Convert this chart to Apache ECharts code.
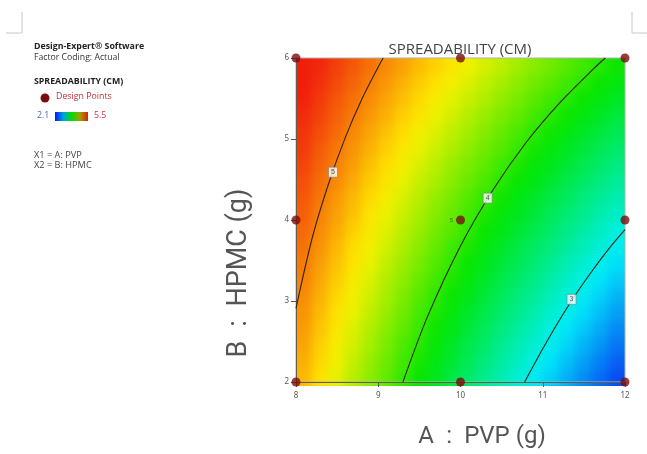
<!DOCTYPE html>
<html>
<head>
<meta charset="utf-8">
<script src="https://cdn.jsdelivr.net/npm/echarts@6/dist/echarts.min.js"></script>
<style>
html,body{margin:0;padding:0;background:#fff;width:647px;height:454px;overflow:hidden;}
#wrap{position:relative;width:647px;height:454px;background:#fff;overflow:hidden;}
#clip{position:absolute;left:296px;top:58px;width:329px;height:328px;overflow:hidden;}
#heat{position:absolute;left:-24px;top:-24px;width:377px;height:376px;filter:blur(5px);}
#chart{position:absolute;left:0;top:0;width:647px;height:454px;}
</style>
</head>
<body>
<div id="wrap">
  <div id="clip"><div id="heat"></div></div>
  <div id="chart"></div>
</div>
<script>
// ---- Data ----
var xTicks = [8, 9, 10, 11, 12];
var yTicks = [2, 3, 4, 5, 6];
// Cell centres of the response grid (A : PVP, B : HPMC)
var aCenters = [8.1,8.3,8.5,8.7,8.9,9.1,9.3,9.5,9.7,9.9,10.1,10.3,10.5,10.7,10.9,11.1,11.3,11.5,11.7,11.9];
var bCenters = [2.1,2.3,2.5,2.7,2.9,3.1,3.3,3.5,3.7,3.9,4.1,4.3,4.5,4.7,4.9,5.1,5.3,5.5,5.7,5.9];
// Spreadability (cm) estimated from colours / contours, one row per bCenter
var spreadGrid = [
[4.82,4.69,4.56,4.42,4.29,4.16,4.02,3.89,3.76,3.62,3.49,3.35,3.22,3.09,2.95,2.82,2.69,2.55,2.42,2.29],
[4.85,4.72,4.59,4.46,4.33,4.20,4.07,3.94,3.81,3.68,3.55,3.42,3.29,3.16,3.03,2.89,2.76,2.63,2.50,2.37],
[4.88,4.75,4.62,4.50,4.37,4.24,4.11,3.99,3.86,3.73,3.60,3.48,3.35,3.22,3.10,2.97,2.84,2.71,2.59,2.46],
[4.91,4.78,4.66,4.53,4.41,4.28,4.16,4.04,3.91,3.79,3.66,3.54,3.41,3.29,3.17,3.04,2.92,2.79,2.67,2.54],
[4.93,4.81,4.69,4.57,4.45,4.33,4.21,4.08,3.96,3.84,3.72,3.60,3.48,3.36,3.24,3.11,2.99,2.87,2.75,2.63],
[4.96,4.84,4.72,4.61,4.49,4.37,4.25,4.13,4.01,3.90,3.78,3.66,3.54,3.42,3.31,3.19,3.07,2.95,2.83,2.71],
[4.99,4.87,4.76,4.64,4.53,4.41,4.30,4.18,4.07,3.95,3.84,3.72,3.61,3.49,3.38,3.26,3.14,3.03,2.91,2.80],
[5.01,4.90,4.79,4.68,4.57,4.45,4.34,4.23,4.12,4.01,3.89,3.78,3.67,3.56,3.45,3.33,3.22,3.11,3.00,2.88],
[5.04,4.93,4.82,4.71,4.61,4.50,4.39,4.28,4.17,4.06,3.95,3.84,3.73,3.62,3.51,3.41,3.30,3.19,3.08,2.97],
[5.07,4.96,4.86,4.75,4.65,4.54,4.43,4.33,4.22,4.12,4.01,3.90,3.80,3.69,3.59,3.48,3.37,3.27,3.16,3.05],
[5.10,4.99,4.89,4.79,4.68,4.58,4.48,4.38,4.27,4.17,4.07,3.96,3.86,3.76,3.66,3.55,3.45,3.35,3.24,3.14],
[5.12,5.02,4.92,4.82,4.72,4.62,4.52,4.42,4.32,4.22,4.12,4.02,3.92,3.82,3.72,3.62,3.52,3.42,3.32,3.23],
[5.15,5.05,4.96,4.86,4.76,4.67,4.57,4.47,4.38,4.28,4.18,4.09,3.99,3.89,3.80,3.70,3.60,3.50,3.41,3.31],
[5.18,5.08,4.99,4.90,4.80,4.71,4.62,4.52,4.43,4.33,4.24,4.15,4.05,3.96,3.86,3.77,3.68,3.58,3.49,3.40],
[5.21,5.11,5.02,4.93,4.84,4.75,4.66,4.57,4.48,4.39,4.30,4.21,4.12,4.03,3.93,3.84,3.75,3.66,3.57,3.48],
[5.23,5.15,5.06,4.97,4.88,4.79,4.71,4.62,4.53,4.44,4.36,4.27,4.18,4.09,4.00,3.92,3.83,3.74,3.65,3.57],
[5.26,5.18,5.09,5.01,4.92,4.84,4.75,4.67,4.58,4.50,4.41,4.33,4.24,4.16,4.07,3.99,3.91,3.82,3.74,3.65],
[5.29,5.21,5.12,5.04,4.96,4.88,4.80,4.72,4.63,4.55,4.47,4.39,4.31,4.23,4.14,4.06,3.98,3.90,3.82,3.74],
[5.31,5.24,5.16,5.08,5.00,4.92,4.84,4.76,4.69,4.61,4.53,4.45,4.37,4.29,4.21,4.14,4.06,3.98,3.90,3.82],
[5.34,5.27,5.19,5.12,5.04,4.96,4.89,4.81,4.74,4.66,4.59,4.51,4.44,4.36,4.28,4.21,4.13,4.06,3.98,3.91]
];
var colorMin = 2.1, colorMax = 5.5;
// Design points
var designA = [8, 10, 12, 8, 10, 12, 8, 10, 12];
var designB = [2, 2, 2, 4, 4, 4, 6, 6, 6];
var centerCount = '5';
// Contour lines (points traced on the picture)
var contour5 = [[8,2.91],[8.2,3.79],[8.4,4.46],[8.6,5.02],[8.8,5.49],[9.0,5.89],[9.06,6]];
var contour4 = [[9.3,2],[9.6,2.81],[10,3.68],[10.4,4.38],[10.8,4.96],[11.2,5.44],[11.6,5.85],[11.76,6]];
var contour3 = [[10.78,2],[11,2.41],[11.2,2.76],[11.4,3.08],[11.6,3.37],[11.8,3.64],[12,3.88]];
var contourLabels = [[8.45,4.59,'5'],[10.33,4.27,'4'],[11.35,3.02,'3']];

// ---- Colour ramp (style): anchor values -> colours ----
var rampAt = [2.1, 2.95, 3.87, 4.64, 5.3, 5.5];
var rampCol = ['#0a1cf0', '#00f0fa', '#00e600', '#fff200', '#f01e0c', '#f01e0c'];
function hex2rgb(h) { return [parseInt(h.substr(1,2),16), parseInt(h.substr(3,2),16), parseInt(h.substr(5,2),16)]; }
var rampList = [];
for (var s = 0; s <= 34; s++) {
  var v = colorMin + (colorMax - colorMin) * s / 34;
  var k = 0; while (k < rampAt.length - 2 && v > rampAt[k + 1]) k++;
  var t = Math.max(0, Math.min(1, (v - rampAt[k]) / (rampAt[k + 1] - rampAt[k])));
  var c0 = hex2rgb(rampCol[k]), c1 = hex2rgb(rampCol[k + 1]);
  rampList.push('rgb(' + Math.round(c0[0] + (c1[0]-c0[0])*t) + ',' + Math.round(c0[1] + (c1[1]-c0[1])*t) + ',' + Math.round(c0[2] + (c1[2]-c0[2])*t) + ')');
}

// ---- Build series data ----
var cells = [];
for (var j = 0; j < bCenters.length; j++) {
  for (var i = 0; i < aCenters.length; i++) {
    cells.push([aCenters[i], bCenters[j], spreadGrid[j][i], i, j]);
  }
}
var cellW = aCenters[1] - aCenters[0];
var cellH = bCenters[1] - bCenters[0];
var designData = designA.map(function (a, k) { return [a, designB[k]]; });

// ---- Background response surface (blurred layer, same scales) ----
var heat = echarts.init(document.getElementById('heat'));
var PAD = 24;
heat.setOption({
  animation: false,
  grid: { left: PAD, top: PAD, width: 329, height: 328 },
  xAxis: { type: 'value', min: 8, max: 12, show: false },
  yAxis: { type: 'value', min: 2, max: 6, show: false },
  visualMap: { show: false, type: 'continuous', min: colorMin, max: colorMax, dimension: 2, inRange: { color: rampList } },
  series: [{
    type: 'custom', data: cells, silent: true, clip: false,
    renderItem: function (params, api) {
      var p0 = api.coord([api.value(0) - cellW / 2, api.value(1) + cellH / 2]);
      var p1 = api.coord([api.value(0) + cellW / 2, api.value(1) - cellH / 2]);
      var x0 = p0[0] - 0.5, y0 = p0[1] - 0.5, x1 = p1[0] + 0.5, y1 = p1[1] + 0.5;
      var ii = api.value(3), jj = api.value(4);
      if (ii === 0) x0 -= PAD;
      if (ii === aCenters.length - 1) x1 += PAD;
      if (jj === 0) y1 += PAD;
      if (jj === bCenters.length - 1) y0 -= PAD;
      return { type: 'rect', shape: { x: x0, y: y0, width: x1 - x0, height: y1 - y0 },
        style: { fill: api.visual('color') } };
    }
  }]
});

// ---- Main chart: axes, contours, points, texts ----
var chart = echarts.init(document.getElementById('chart'));
var contourStyle = { color: '#2e2418', width: 1.1 };
function contourSeries(d) {
  return { type: 'line', data: d, smooth: 0.3, symbol: 'none', silent: true,
    lineStyle: contourStyle, z: 3, clip: true };
}
var option = {
  animation: false,
  title: {
    text: 'SPREADABILITY (CM)', left: 455, top: 37, textAlign: 'center',
    textStyle: { fontFamily: 'Open Sans', fontSize: 15, fontWeight: 'normal', color: '#444' }
  },
  grid: { left: 296, top: 58, width: 329, height: 328, show: true, borderColor: '#b0b0b0', borderWidth: 1, backgroundColor: 'transparent' },
  xAxis: {
    type: 'value', min: 8, max: 12, interval: 1,
    name: 'A\u2002:\u2002PVP (g)', nameLocation: 'middle', nameGap: 43,
    nameTextStyle: { fontFamily: 'Roboto', fontSize: 24, color: '#555', padding: [0, 0, 0, 43] },
    axisLine: { show: true, onZero: false, lineStyle: { color: '#6a5a4a', width: 1 } },
    axisTick: { show: true, length: 5, lineStyle: { color: '#555' } },
    axisLabel: { fontSize: 8, color: '#555', margin: 10, fontFamily: 'Noto Sans' },
    splitLine: { show: false }
  },
  yAxis: {
    type: 'value', min: 2, max: 6, interval: 1,
    name: 'B\u2002:\u2002HPMC (g)', nameLocation: 'middle', nameGap: 43,
    nameTextStyle: { fontFamily: 'Roboto', fontSize: 27, color: '#555', padding: [0, 106, 0, 0] },
    axisLine: { show: true, onZero: false, lineStyle: { color: '#6a5a4a', width: 1 } },
    axisTick: { show: true, length: 5, lineStyle: { color: '#555' } },
    axisLabel: { fontSize: 8, color: '#555', margin: 7, fontFamily: 'Noto Sans' },
    splitLine: { show: false }
  },
  series: [
    contourSeries(contour5),
    contourSeries(contour4),
    contourSeries(contour3),
    {
      type: 'scatter', data: contourLabels.map(function (c) { return [c[0], c[1], c[2]]; }),
      symbol: 'rect', symbolSize: [9, 10], z: 4, silent: true,
      itemStyle: { color: '#ffffff', borderColor: '#808080', borderWidth: 0.8 },
      label: { show: true, position: 'inside', formatter: function (p) { return p.value[2]; },
        fontSize: 7, color: '#333' }
    },
    {
      type: 'scatter', data: designData, symbol: 'circle', symbolSize: 9, clip: false, z: 5, silent: true,
      itemStyle: { color: '#7a0c0c' },
      label: { show: true, position: 'left', distance: 3, fontSize: 6, color: '#444',
        formatter: function (p) { return (p.value[0] === 10 && p.value[1] === 4) ? centerCount : ''; } }
    }
  ],
  graphic: [
    { type: 'polyline', shape: { points: [[22, 12], [22, 33], [6, 33]] }, style: { stroke: '#c8c8c8', lineWidth: 1, fill: null } },
    { type: 'polyline', shape: { points: [[632, 12], [632, 33], [647, 33]] }, style: { stroke: '#c8c8c8', lineWidth: 1, fill: null } },
    { type: 'text', left: 34, top: 42, style: { text: 'Design-Expert® Software', font: 'bold 8.8px "Open Sans"', fill: '#222' } },
    { type: 'text', left: 34, top: 53, style: { text: 'Factor Coding: Actual', font: '8.7px "Open Sans"', fill: '#333' } },
    { type: 'text', left: 34, top: 77, style: { text: 'SPREADABILITY (CM)', font: 'bold 8.8px "Open Sans"', fill: '#222' } },
    { type: 'circle', shape: { cx: 45, cy: 98, r: 4.5 }, style: { fill: '#7a0c0c' } },
    { type: 'text', left: 56, top: 92, style: { text: 'Design Points', font: '8.8px "Open Sans"', fill: '#c0303a' } },
    { type: 'text', left: 37, top: 111, style: { text: '2.1', font: '8.8px "Open Sans"', fill: '#5560d0' } },
    { type: 'rect', shape: { x: 55, y: 112, width: 33, height: 9 },
      style: { fill: new echarts.graphic.LinearGradient(0, 0, 1, 0, [
        { offset: 0, color: '#0a1af5' }, { offset: 0.25, color: '#00a0e0' }, { offset: 0.5, color: '#00e000' },
        { offset: 0.75, color: '#a0a000' }, { offset: 1, color: '#e02000' }]) } },
    { type: 'text', left: 94, top: 111, style: { text: '5.5', font: '8.8px "Open Sans"', fill: '#d03040' } },
    { type: 'text', left: 34, top: 151, style: { text: 'X1 = A: PVP', font: '9.2px "Open Sans"', fill: '#444' } },
    { type: 'text', left: 34, top: 161, style: { text: 'X2 = B: HPMC', font: '9.2px "Open Sans"', fill: '#444' } }
  ]
};
chart.setOption(option);
</script>
</body>
</html>
